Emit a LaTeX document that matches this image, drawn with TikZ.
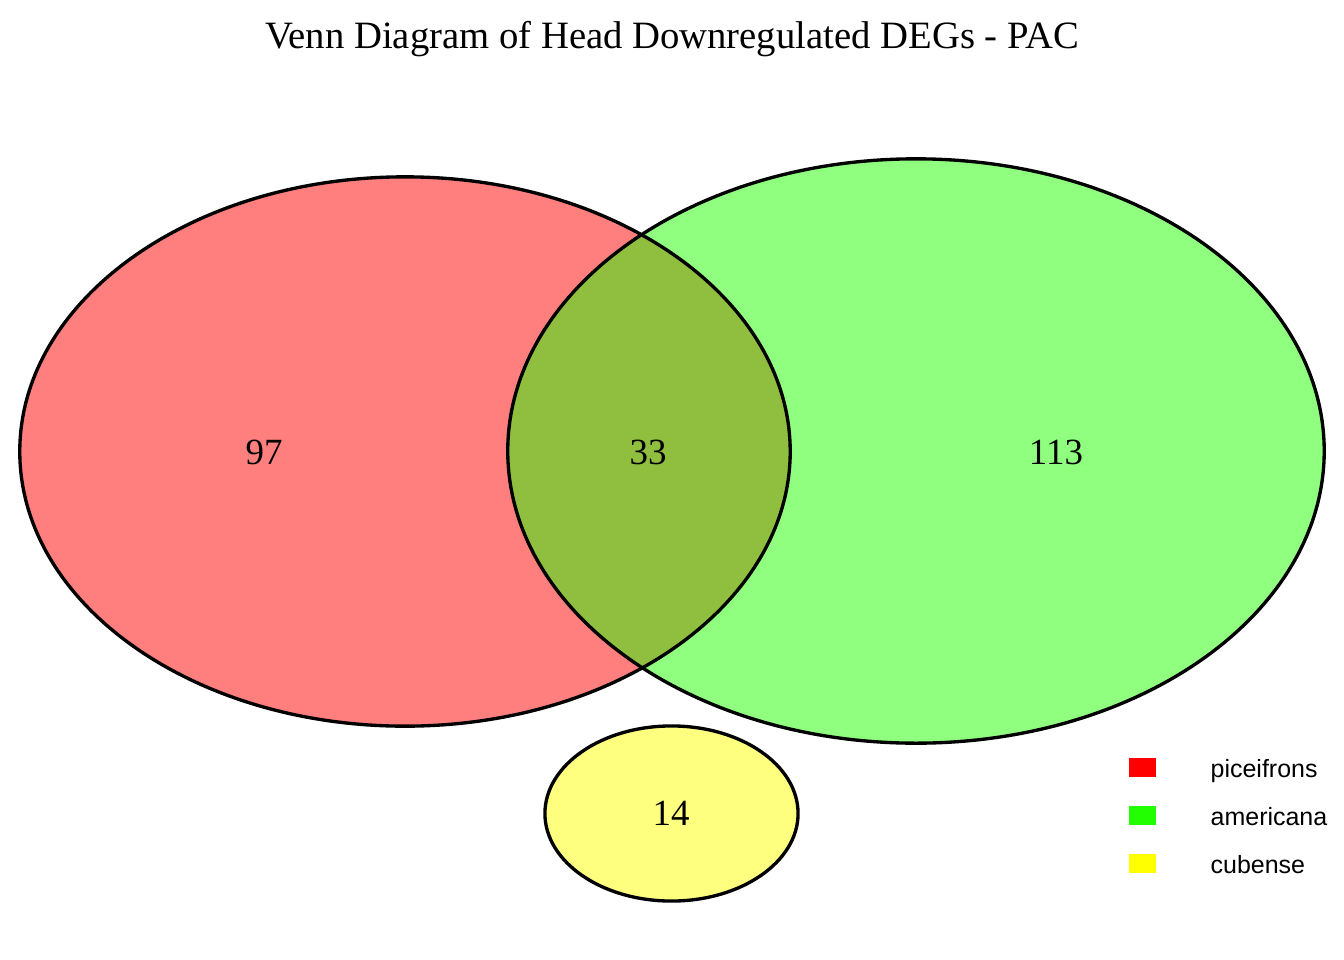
\documentclass[tikz,border=0pt]{standalone}
\usepackage{fontspec}
\setmainfont{Liberation Serif}
\newfontfamily\legfont{Liberation Sans}
\usepackage{tikz}
\definecolor{vred}{RGB}{255,0,0}
\definecolor{vgreen}{RGB}{34,255,0}
\definecolor{vyellow}{RGB}{255,255,0}

\begin{document}
\begin{tikzpicture}[x=0.01cm, y=-0.01cm,
    setfill/.style={fill opacity=0.5},
    outline/.style={draw=black, line width=0.95pt},
    count/.style={font=\fontsize{10.5}{12}\selectfont},
    legbox/.style={minimum width=0.27cm, minimum height=0.19cm, inner sep=0pt},
    legtext/.style={anchor=base west, inner sep=0pt, font=\legfont\fontsize{7.1}{9}\selectfont}]
            \useasboundingbox (0,0) rectangle (1344,960);
            \node[font=\fontsize{11}{13}\selectfont, anchor=base] (title) at (672,48) {Venn Diagram of Head Downregulated DEGs - PAC};
            % sets
            \fill[vred, setfill] (405,451.5) circle[x radius=3.85cm, y radius=2.745cm];
            \fill[vgreen, setfill] (916,451) circle[x radius=4.08cm, y radius=2.92cm];
            \fill[vyellow, setfill] (671.5,813.5) circle[x radius=1.265cm, y radius=0.875cm];
            \draw[outline] (405,451.5) circle[x radius=3.85cm, y radius=2.745cm];
            \draw[outline] (916,451) circle[x radius=4.08cm, y radius=2.92cm];
            \draw[outline] (671.5,813.5) circle[x radius=1.265cm, y radius=0.875cm];
            % counts
            \node[count] (onlyp) at (264,452) {97};
            \node[count] (pa) at (648,452) {33};
            \node[count] (onlya) at (1056,452) {113};
            \node[count] (onlyc) at (671,813) {14};
            % legend
            \node[legbox, fill=vred] (keyp) at (1142.5,767.5) {};
            \node[legbox, fill=vgreen] (keya) at (1142.5,815.5) {};
            \node[legbox, fill=vyellow] (keyc) at (1142.5,863.5) {};
            \node[legtext] (labp) at (1210,777) {piceifrons};
            \node[legtext] (laba) at (1210,825) {americana};
            \node[legtext] (labc) at (1210,873) {cubense};
        \end{tikzpicture}
\end{document}
